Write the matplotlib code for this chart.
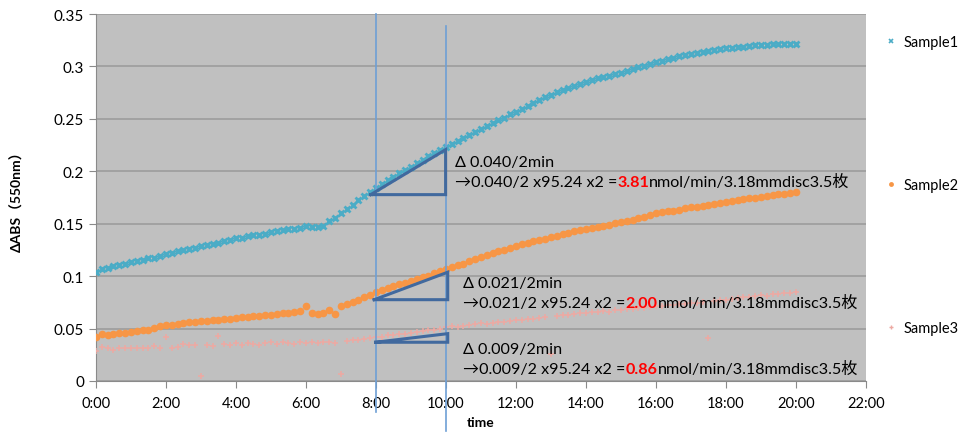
import matplotlib
matplotlib.use("Agg")
import matplotlib.pyplot as plt
from matplotlib.lines import Line2D
from matplotlib.ticker import MultipleLocator, FuncFormatter

# time in minutes, one reading every 10 s
minutes = [i / 6 for i in range(121)]

sample1 = [
    0.104, 0.1065, 0.108, 0.1095, 0.1105, 0.1118,
    0.1135, 0.1142, 0.1155, 0.1168, 0.1175, 0.119,
    0.1215, 0.1222, 0.1235, 0.1247, 0.1255, 0.1268,
    0.129, 0.1298, 0.1305, 0.1318, 0.1333, 0.1342,
    0.136, 0.1365, 0.1378, 0.1388, 0.1396, 0.1405,
    0.142, 0.1428, 0.1435, 0.1446, 0.1452, 0.1462,
    0.1478, 0.1465, 0.1468, 0.148, 0.1525, 0.1555,
    0.160, 0.164, 0.168, 0.1725, 0.1765, 0.1805,
    0.1845, 0.1878, 0.1912, 0.1948, 0.1982, 0.2008,
    0.204, 0.2075, 0.211, 0.2143, 0.2175, 0.2205,
    0.2235, 0.2262, 0.2292, 0.232, 0.2348, 0.2372,
    0.240, 0.2428, 0.2457, 0.2485, 0.2512, 0.2542,
    0.257, 0.2598, 0.2627, 0.2655, 0.268, 0.2706,
    0.273, 0.2752, 0.2775, 0.2795, 0.2815, 0.2836,
    0.2855, 0.287, 0.2885, 0.290, 0.2913, 0.2925,
    0.294, 0.2955, 0.2972, 0.299, 0.3008, 0.3024,
    0.304, 0.3055, 0.307, 0.3085, 0.3098, 0.311,
    0.312, 0.313, 0.3142, 0.315, 0.3155, 0.3165,
    0.3175, 0.318, 0.3186, 0.319, 0.3196, 0.320,
    0.3205, 0.3207, 0.321, 0.3212, 0.3213, 0.3214,
    0.3215,
]

sample2 = [
    0.042, 0.0445, 0.0442, 0.0448, 0.0455, 0.046,
    0.047, 0.0475, 0.0482, 0.0489, 0.0505, 0.052,
    0.053, 0.0535, 0.0542, 0.0553, 0.0558, 0.0562,
    0.0567, 0.0572, 0.0578, 0.0584, 0.059, 0.0595,
    0.060, 0.0606, 0.0612, 0.0617, 0.0622, 0.0627,
    0.0632, 0.0638, 0.0644, 0.065, 0.0657, 0.0665,
    0.0712, 0.0652, 0.0640, 0.0645, 0.0675, 0.0635,
    0.0712, 0.0732, 0.0753, 0.0775, 0.0798, 0.0822,
    0.0845, 0.0865, 0.0885, 0.0905, 0.0922, 0.0938,
    0.0955, 0.0972, 0.0988, 0.1005, 0.1025, 0.1045,
    0.1065, 0.1083, 0.1102, 0.112, 0.114, 0.116,
    0.118, 0.1198, 0.1217, 0.1235, 0.1253, 0.1272,
    0.129, 0.1303, 0.1317, 0.133, 0.1343, 0.1357,
    0.137, 0.1385, 0.14, 0.1415, 0.1427, 0.1438,
    0.145, 0.146, 0.147, 0.148, 0.1492, 0.1503,
    0.1515, 0.1527, 0.1538, 0.155, 0.1567, 0.1584,
    0.160, 0.1608, 0.1617, 0.1625, 0.1635, 0.1645,
    0.1655, 0.1663, 0.1672, 0.168, 0.1689, 0.1698,
    0.1708, 0.1716, 0.1725, 0.1733, 0.1741, 0.1749,
    0.1757, 0.1765, 0.1772, 0.178, 0.1787, 0.1794,
    0.180,
]

sample3 = [
    0.029, 0.0322, 0.031, 0.0295, 0.0312, 0.0312,
    0.0312, 0.0312, 0.0312, 0.0318, 0.0335, 0.0312,
    0.0418, 0.0312, 0.0325, 0.0348, 0.0338, 0.0342,
    0.0045, 0.0345, 0.0336, 0.0426, 0.0352, 0.0345,
    0.0358, 0.0338, 0.0362, 0.0355, 0.0345, 0.0362,
    0.0368, 0.0355, 0.0372, 0.0362, 0.0352, 0.0368,
    0.0365, 0.0372, 0.0358, 0.0368, 0.0375, 0.0362,
    0.0068, 0.0385, 0.0392, 0.0395, 0.0402, 0.0408,
    0.0415, 0.0422, 0.0438, 0.0442, 0.0452, 0.0446,
    0.0458, 0.0465, 0.0472, 0.0482, 0.049, 0.0498,
    0.051, 0.0525, 0.0515, 0.0528, 0.0535, 0.054,
    0.0548, 0.0545, 0.0555, 0.0562, 0.0558, 0.0572,
    0.0578, 0.0582, 0.0588, 0.0595, 0.0605, 0.0608,
    0.0255, 0.0615, 0.0628, 0.0632, 0.0642, 0.0648,
    0.065, 0.0655, 0.0658, 0.0665, 0.0662, 0.0672,
    0.0675, 0.0682, 0.0688, 0.0692, 0.0698, 0.0705,
    0.0712, 0.0718, 0.0722, 0.0728, 0.0735, 0.0738,
    0.0742, 0.0748, 0.0752, 0.041, 0.0765, 0.077,
    0.0775, 0.0785, 0.0792, 0.0798, 0.0805, 0.0812,
    0.0818, 0.0812, 0.0825, 0.0832, 0.0838, 0.0842,
    0.0845,
]

labels = ["Sample1", "Sample2", "Sample3"]
colors = ["#4bacc6", "#f79646", "#eda9a2"]

# slope triangles drawn on the chart (time, value)
tri_x = [[7.85, 9.99, 9.99, 7.85], [7.95, 10.05, 10.05, 7.95], [7.99, 10.05, 10.05, 7.99]]
tri_y = [[0.1777, 0.2206, 0.1777, 0.1777], [0.0775, 0.1037, 0.0775, 0.0775],
         [0.0369, 0.0451, 0.0369, 0.0369]]

deltas = ["0.040", "0.021", "0.009"]
rates = ["3.81", "2.00", "0.86"]
note_x = [10.26, 10.49, 10.49]
note_y = [0.2085, 0.0935, 0.0305]

plt.rcParams['font.family'] = ['Lato', 'Noto Sans CJK JP', 'DejaVu Sans']

fig = plt.figure(figsize=(9.6, 4.35), dpi=100)
ax = fig.add_axes([0.1, 0.122, 0.802, 0.8435])
ax.set_facecolor("#c0c0c0")

ax.plot(minutes, sample3, linestyle="none", marker="+", ms=4, mew=1.1, color=colors[2], zorder=3)
ax.plot(minutes, sample2, linestyle="none", marker="o", ms=5.5, mew=0, color=colors[1], zorder=4)
ax.plot(minutes, sample1, linestyle="none", marker="x", ms=5, mew=2, color=colors[0], zorder=5)

# vertical guide lines at 8:00 and 10:00
ax.plot([8, 8], [0.35, -0.0296], color="#6e9fd5", lw=1.2, clip_on=False, zorder=6)
ax.plot([10, 10], [0.3385, -0.0477], color="#6e9fd5", lw=1.2, clip_on=False, zorder=6)

for xs, ys in zip(tri_x, tri_y):
    ax.plot(xs, ys, color="#41699e", lw=2.2, solid_joinstyle="miter", zorder=7)

fs = 11.6
for d, r, x, y in zip(deltas, rates, note_x, note_y):
    ax.text(x, y, "\u0394 " + d + "/2min", fontsize=fs, va="center", ha="left")
    t1 = ax.text(x, y - 0.0191, "\u2192" + d + "/2 x95.24 x2 =", fontsize=fs,
                 va="center", ha="left")
    t2 = ax.annotate(r, xy=(1, 0), xycoords=t1, va="bottom", ha="left",
                     fontsize=fs, color="red", fontweight="bold")
    ax.annotate("nmol/min/3.18mmdisc3.5枚", xy=(1, 0), xycoords=t2, va="bottom",
                ha="left", fontsize=fs)

ax.set_xlim(0, 22)
ax.set_ylim(0, 0.35)
ax.xaxis.set_major_locator(MultipleLocator(2))
ax.yaxis.set_major_locator(MultipleLocator(0.05))
ax.xaxis.set_major_formatter(FuncFormatter(lambda v, p: "%d:00" % round(v)))
ax.yaxis.set_major_formatter(FuncFormatter(lambda v, p: ("%.2f" % v).rstrip("0").rstrip(".") if v else "0"))
ax.grid(axis="y", color="#9c9c9c", lw=1.2)
ax.set_axisbelow(True)
for s in ["top", "right"]:
    ax.spines[s].set_visible(False)
for s in ["left", "bottom"]:
    ax.spines[s].set_color("#8a8a8a")
ax.tick_params(axis="both", color="#8a8a8a", length=5, labelsize=11)
ax.tick_params(axis="x", pad=6, labelsize=10.5)

ax.set_xlabel("time", fontsize=10, fontweight="bold", labelpad=4)
ax.set_ylabel("\u0394ABS（550nm）", fontsize=10, fontweight="bold", labelpad=22)

handles = [
    Line2D([], [], linestyle="none", marker="x", ms=3, mew=1.2, color=colors[0]),
    Line2D([], [], linestyle="none", marker="o", ms=3.5, mew=0, color=colors[1]),
    Line2D([], [], linestyle="none", marker="+", ms=3, mew=1, color=colors[2]),
]
fig.legend(handles, labels, loc="upper left", bbox_to_anchor=(0.918, 0.93),
           frameon=False, fontsize=10.5, labelspacing=8.85, handlelength=0.6,
           handletextpad=0.5, borderaxespad=0)

fig.savefig("out.png", dpi=100)
